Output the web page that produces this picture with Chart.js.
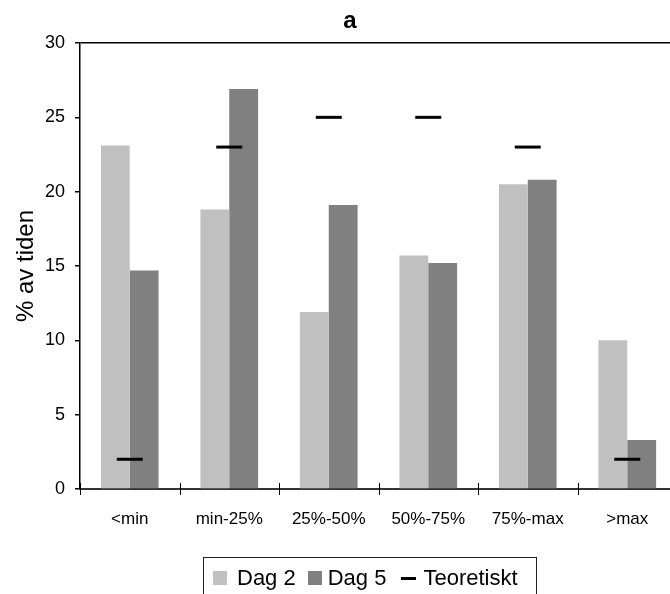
<!DOCTYPE html>
<html>
<head>
<meta charset="utf-8">
<script src="https://cdn.jsdelivr.net/npm/chart.js@4"></script>
<style>
  html, body { margin: 0; padding: 0; background: #fff; overflow: hidden; }
  #wrap { position: relative; width: 670px; height: 594px; overflow: hidden;
          font-family: "Liberation Sans", Arial, sans-serif; color: #000; }
  #graf { position: absolute; left: 0; top: 0; }
  #titel { position: absolute; left: 300px; width: 100px; top: 6px; text-align: center;
           font-weight: bold; font-size: 24px; line-height: 28px; }
  #legend { position: absolute; left: 203px; top: 557px; width: 332px; height: 60px;
            border: 1px solid #222; font-size: 22px; line-height: 26px; white-space: nowrap; }
  #legend .rad { position: absolute; top: 7px; left: 0; display: flex; align-items: center; }
  #legend .ruta { display: inline-block; width: 14px; height: 14px; }
  #legend .streck { display: inline-block; width: 15px; height: 3px; background: #000; }
</style>
</head>
<body>
<div id="wrap">
  <canvas id="graf" width="693" height="594"></canvas>
  <div id="titel">a</div>
  <div id="legend">
    <div class="rad">
      <span class="ruta" style="background:#c0c0c0; margin-left:9px"></span>
      <span style="margin-left:10px">Dag 2</span>
      <span class="ruta" style="background:#808080; margin-left:12px"></span>
      <span style="margin-left:6px">Dag 5</span>
      <span class="streck" style="margin-left:15px"></span>
      <span style="margin-left:7px">Teoretiskt</span>
    </div>
  </div>
</div>
<script>
// andel av tiden per intervall
const kategorier = ['<min', 'min-25%', '25%-50%', '50%-75%', '75%-max', '>max'];
const dag2 = [23.1, 18.8, 11.9, 15.7, 20.5, 10.0];
const dag5 = [14.7, 26.9, 19.1, 15.2, 20.8, 3.3];
const teoretiskt = [2, 23, 25, 25, 23, 2];
const yTicks = [0, 5, 10, 15, 20, 25, 30];

Chart.defaults.font.family = '"Liberation Sans", Arial, sans-serif';
Chart.defaults.color = '#000';

// korta streck som korsar x-axeln mellan kategorierna
const xStreck = {
  id: 'xStreck',
  afterDraw(chart) {
    const x = chart.scales.x;
    const ctx = chart.ctx;
    const n = x.ticks.length;
    const steg = x.width / n;
    ctx.save();
    ctx.strokeStyle = '#000';
    ctx.lineWidth = 1;
    for (let i = 0; i <= n; i++) {
      const px = Math.round(x.left + i * steg) + 0.5;
      ctx.beginPath();
      ctx.moveTo(px, x.top - 6);
      ctx.lineTo(px, x.top + 6);
      ctx.stroke();
    }
    ctx.restore();
  }
};

const ctx = document.getElementById('graf').getContext('2d');
new Chart(ctx, {
  data: {
    labels: kategorier,
    datasets: [
      {
        type: 'line',
        label: 'Teoretiskt',
        data: teoretiskt,
        showLine: false,
        pointStyle: 'line',
        pointRadius: 13,
        pointHoverRadius: 13,
        pointBorderWidth: 3,
        borderColor: '#000',
        backgroundColor: '#000',
        order: 0
      },
      {
        type: 'bar',
        label: 'Dag 2',
        data: dag2,
        backgroundColor: '#c0c0c0',
        barPercentage: 1,
        categoryPercentage: 0.58,
        order: 1
      },
      {
        type: 'bar',
        label: 'Dag 5',
        data: dag5,
        backgroundColor: '#808080',
        barPercentage: 1,
        categoryPercentage: 0.58,
        order: 1
      }
    ]
  },
  options: {
    responsive: false,
    animation: false,
    layout: { padding: { top: 43, right: 0, bottom: 0, left: 0 } },
    plugins: {
      legend: { display: false },
      tooltip: { enabled: false }
    },
    scales: {
      x: {
        offset: true,
        grid: { display: true, drawOnChartArea: false, drawTicks: false, offset: true },
        border: { color: '#333', width: 2 },
        ticks: { font: { size: 17 }, padding: 20, maxRotation: 0, autoSkip: false },
        afterFit: (scale) => { scale.height = 105; }
      },
      y: {
        min: yTicks[0],
        max: yTicks[yTicks.length - 1],
        ticks: { stepSize: yTicks[1] - yTicks[0], font: { size: 18 }, padding: 10 },
        grid: {
          drawOnChartArea: true,
          tickLength: 5,
          tickColor: '#000',
          color: (c) => (c.tick && c.tick.value === yTicks[yTicks.length - 1]) ? '#000' : 'rgba(0,0,0,0)',
          lineWidth: 1.5
        },
        border: { color: '#000', width: 1.5 },
        title: { display: true, text: '% av tiden', font: { size: 24 }, padding: { top: 12, bottom: 0 } },
        afterFit: (scale) => { scale.width = 80; }
      }
    }
  },
  plugins: [xStreck]
});
</script>
</body>
</html>
